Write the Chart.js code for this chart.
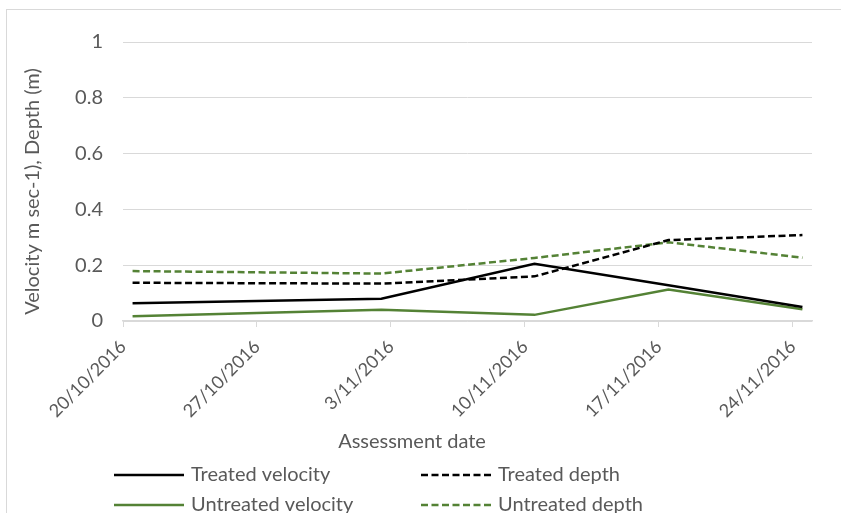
<!DOCTYPE html>
<html>
<head>
<meta charset="utf-8">
<title>Velocity and depth</title>
<script src="https://cdn.jsdelivr.net/npm/chart.js"></script>
<style>
	body { margin: 0; background: #fff; }
	canvas { display: block; }
</style>
</head>
<body>
<canvas id="flowChart" width="841" height="513"></canvas>
<script>
// data
var assessmentDates = ['2016-10-20', '2016-11-02', '2016-11-10', '2016-11-17', '2016-11-24'];
var treatedVelocity = [0.064, 0.080, 0.205, 0.128, 0.050];
var treatedDepth = [0.137, 0.134, 0.160, 0.290, 0.308];
var untreatedVelocity = [0.017, 0.040, 0.022, 0.113, 0.042];
var untreatedDepth = [0.179, 0.170, 0.226, 0.282, 0.227];
var tickLabels = ['20/10/2016', '27/10/2016', '3/11/2016', '10/11/2016', '17/11/2016', '24/11/2016'];
var yTicks = [0, 0.2, 0.4, 0.6, 0.8, 1];

var FONT = 'Lato';
var TEXT = '#595959';
var GRID = '#d9d9d9';
var GREEN = '#548235';

var startDay = Date.UTC(2016, 9, 20);
function dayOf(str) {
	// accepts yyyy-mm-dd or d/m/yyyy
	var p;
	if (str.indexOf('/') > -1) {
		p = str.split('/');
		return (Date.UTC(+p[2], +p[1] - 1, +p[0]) - startDay) / 86400000;
	}
	p = str.split('-');
	return (Date.UTC(+p[0], +p[1] - 1, +p[2]) - startDay) / 86400000;
}
var tickDays = tickLabels.map(dayOf);

// excel date axis puts each point in the middle of its day
function series(values) {
	return values.map(function(v, i) {
		return {x: dayOf(assessmentDates[i]) + 0.5, y: v};
	});
}

var extras = {
	id: 'extras',
	afterDraw: function(chart) {
		var ctx = chart.ctx;
		var area = chart.chartArea;
		ctx.save();

		// chart frame
		ctx.strokeStyle = GRID;
		ctx.lineWidth = 1;
		ctx.strokeRect(6.5, 9.5, 900, 600);

		ctx.fillStyle = TEXT;
		ctx.font = '20px ' + FONT;
		ctx.textBaseline = 'middle';

		// y title
		ctx.save();
		ctx.translate(33, (area.top + area.bottom) / 2 + 10);
		ctx.rotate(-Math.PI / 2);
		ctx.textAlign = 'center';
		ctx.fillText('Velocity m sec-1), Depth (m)', 0, 0);
		ctx.restore();

		// x title
		ctx.textAlign = 'center';
		ctx.fillText('Assessment date', 412, 442);

		// legend, two columns
		ctx.textAlign = 'left';
		chart.data.datasets.forEach(function(ds, i) {
			var col = i % 2, row = Math.floor(i / 2);
			var x = col ? 421 : 114;
			var y = 475 + row * 30;
			ctx.beginPath();
			ctx.strokeStyle = ds.borderColor;
			ctx.lineWidth = ds.borderWidth;
			ctx.setLineDash(ds.borderDash || []);
			ctx.moveTo(x, y);
			ctx.lineTo(x + 70, y);
			ctx.stroke();
			ctx.setLineDash([]);
			ctx.fillStyle = TEXT;
			ctx.fillText(ds.label, x + 77, y);
		});
		ctx.restore();
	}
};

var flow = document.getElementById('flowChart').getContext('2d');
var flowChart = new Chart(flow, {
	type: 'line',
	data: {
		datasets: [{
			label: 'Treated velocity',
			data: series(treatedVelocity),
			borderColor: '#000000',
			borderWidth: 2.5
		}, {
			label: 'Treated depth',
			data: series(treatedDepth),
			borderColor: '#000000',
			borderWidth: 2.5,
			borderDash: [7, 3.5]
		}, {
			label: 'Untreated velocity',
			data: series(untreatedVelocity),
			borderColor: GREEN,
			borderWidth: 2.5
		}, {
			label: 'Untreated depth',
			data: series(untreatedDepth),
			borderColor: GREEN,
			borderWidth: 2.5,
			borderDash: [7, 3.5]
		}]
	},
	options: {
		responsive: false,
		devicePixelRatio: 1,
		animation: false,
		elements: {
			point: {radius: 0},
			line: {tension: 0, fill: false}
		},
		layout: {padding: {left: 0, right: 29, top: 42, bottom: 0}},
		plugins: {
			legend: {display: false},
			tooltip: {enabled: false}
		},
		scales: {
			x: {
				type: 'linear',
				min: 0,
				max: 36,
				afterBuildTicks: function(scale) {
					scale.ticks = tickDays.map(function(d) { return {value: d}; });
				},
				afterFit: function(scale) { scale.height = 192; },
				ticks: {
					minRotation: 45,
					maxRotation: 45,
					padding: 9,
					color: TEXT,
					font: {family: FONT, size: 18},
					callback: function(value) {
						return tickLabels[tickDays.indexOf(value)];
					}
				},
				grid: {
					drawOnChartArea: false,
					drawTicks: true,
					tickLength: 6,
					color: GRID
				},
				border: {color: GRID, width: 1.5}
			},
			y: {
				min: 0,
				max: 1,
				afterBuildTicks: function(scale) {
					scale.ticks = yTicks.map(function(v) { return {value: v}; });
				},
				afterFit: function(scale) { scale.width = 123; },
				ticks: {
					padding: 20,
					color: TEXT,
					font: {family: FONT, size: 20},
					callback: function(value) { return String(value); }
				},
				grid: {color: GRID, drawTicks: false},
				border: {display: false}
			}
		}
	},
	plugins: [extras]
});
</script>
</body>
</html>
